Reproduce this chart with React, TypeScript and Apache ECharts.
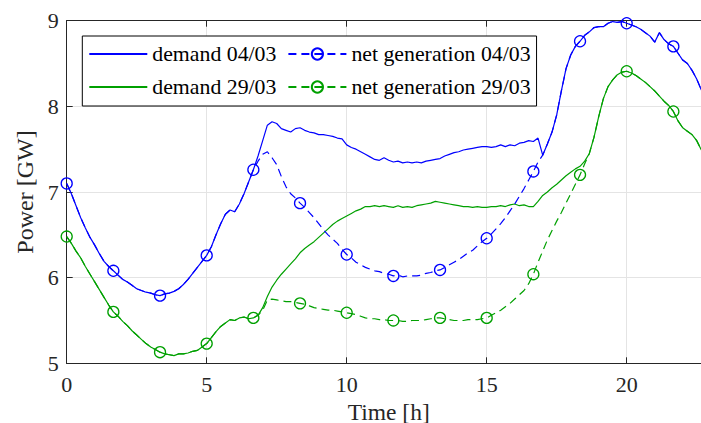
import React, { useEffect, useRef } from "react";
import * as echarts from "echarts";

// time grid: one sample every 10 minutes (1/6 h)
const STEP_H = 1 / 6;
const MARKER_EVERY = 10; // a marker every 100 minutes

const seriesNames = ["demand 04/03", "net generation 04/03", "demand 29/03", "net generation 29/03"];

const demand0403 = [
  7.10, 6.98, 6.84, 6.70, 6.58, 6.47, 6.38, 6.28, 6.19, 6.13,
  6.08, 6.03, 5.98, 5.95, 5.91, 5.87, 5.85, 5.83, 5.82, 5.80,
  5.79, 5.81, 5.82, 5.84, 5.87, 5.92, 5.98, 6.05, 6.12, 6.19,
  6.26, 6.36, 6.50, 6.63, 6.74, 6.79, 6.77, 6.86, 6.98, 7.12,
  7.26, 7.42, 7.60, 7.78, 7.82, 7.80, 7.74, 7.72, 7.70, 7.74,
  7.75, 7.72, 7.70, 7.69, 7.67, 7.67, 7.66, 7.65, 7.63, 7.62,
  7.55, 7.52, 7.50, 7.47, 7.44, 7.41, 7.38, 7.37, 7.40, 7.37,
  7.35, 7.36, 7.34, 7.35, 7.34, 7.35, 7.34, 7.36, 7.37, 7.38,
  7.39, 7.42, 7.44, 7.46, 7.47, 7.49, 7.50, 7.51, 7.52, 7.53,
  7.53, 7.52, 7.53, 7.55, 7.53, 7.55, 7.54, 7.57, 7.58, 7.60,
  7.59, 7.63, 7.43, 7.56, 7.70, 7.90, 8.18, 8.44, 8.60, 8.70,
  8.76, 8.83, 8.87, 8.92, 8.93, 8.93, 8.97, 8.99, 8.98, 8.99,
  8.97, 8.95, 8.93, 8.90, 8.86, 8.82, 8.75, 8.86, 8.78, 8.73,
  8.70, 8.62, 8.54, 8.50, 8.42, 8.32, 8.19,
];

const demand2903 = [
  6.48, 6.40, 6.31, 6.23, 6.13, 6.04, 5.95, 5.86, 5.77, 5.68,
  5.60, 5.55, 5.49, 5.44, 5.38, 5.33, 5.28, 5.23, 5.19, 5.16,
  5.13, 5.11, 5.10, 5.09, 5.11, 5.11, 5.12, 5.14, 5.15, 5.19,
  5.23, 5.30, 5.37, 5.43, 5.47, 5.51, 5.50, 5.53, 5.54, 5.52,
  5.53, 5.56, 5.65, 5.78, 5.89, 5.97, 6.04, 6.10, 6.16, 6.22,
  6.29, 6.34, 6.38, 6.42, 6.47, 6.52, 6.57, 6.62, 6.66, 6.69,
  6.72, 6.75, 6.78, 6.80, 6.83, 6.83, 6.84, 6.83, 6.84, 6.83,
  6.82, 6.84, 6.82, 6.83, 6.82, 6.84, 6.85, 6.86, 6.87, 6.89,
  6.88, 6.87, 6.86, 6.85, 6.84, 6.83, 6.83, 6.82, 6.83, 6.82,
  6.82, 6.83, 6.83, 6.84, 6.83, 6.85, 6.86, 6.84, 6.85, 6.83,
  6.83, 6.89, 6.96, 7.00, 7.05, 7.09, 7.14, 7.19, 7.23, 7.27,
  7.30, 7.36, 7.45, 7.64, 7.88, 8.09, 8.23, 8.31, 8.37, 8.40,
  8.41, 8.39, 8.36, 8.32, 8.28, 8.23, 8.18, 8.12, 8.06, 8.01,
  7.94, 7.83, 7.75, 7.71, 7.67, 7.60, 7.49,
];

// net generation equals demand outside these sample ranges
const netGen0403Start = 41;
const netGen0403Diverging = [
  7.36, 7.44, 7.47, 7.40, 7.32, 7.18, 7.06, 6.98, 6.93,
  6.87, 6.82, 6.76, 6.70, 6.63, 6.56, 6.50, 6.45, 6.40, 6.33,
  6.27, 6.23, 6.18, 6.15, 6.12, 6.10, 6.08, 6.07, 6.05, 6.04,
  6.02, 6.03, 6.01, 6.02, 6.02, 6.02, 6.03, 6.05, 6.06, 6.08,
  6.09, 6.12, 6.15, 6.18, 6.21, 6.25, 6.29, 6.32, 6.37, 6.42,
  6.46, 6.51, 6.57, 6.63, 6.70, 6.78, 6.86, 6.95, 7.04, 7.14,
  7.24, 7.35,
];

const netGen2903Start = 42;
const netGen2903Diverging = [
  5.62, 5.74, 5.75, 5.74, 5.73, 5.72, 5.72, 5.71,
  5.70, 5.69, 5.67, 5.65, 5.64, 5.63, 5.62, 5.62, 5.61, 5.60,
  5.59, 5.58, 5.57, 5.55, 5.53, 5.52, 5.52, 5.51, 5.51, 5.50,
  5.50, 5.50, 5.49, 5.49, 5.50, 5.50, 5.50, 5.51, 5.52, 5.53,
  5.53, 5.52, 5.51, 5.50, 5.50, 5.50, 5.51, 5.51, 5.51, 5.52,
  5.53, 5.56, 5.59, 5.62, 5.66, 5.70, 5.75, 5.80, 5.85, 5.93,
  6.04, 6.18, 6.31, 6.44, 6.55, 6.66, 6.76, 6.87, 6.98, 7.09,
  7.20, 7.33,
];

const BLUE = "#0000ff";
const GREEN = "#00a000";
const AXIS = "#262626";
const GRIDC = "#e4e4e4";
const FONT = "Liberation Serif";

const times = demand0403.map((_, i) => i * STEP_H);

function demandData(d: number[]) {
  return d.map((v, i) => [times[i], v]);
}

function netData(d: number[], start: number, div: number[]) {
  return d.map((v, i) => {
    const inDiv = i >= start && i < start + div.length;
    const val = inDiv ? div[i - start] : v;
    return { value: [times[i], val], symbol: i % MARKER_EVERY === 0 ? "circle" : "none" };
  });
}

export default function App() {
  const ref = useRef<HTMLDivElement>(null);
  useEffect(() => {
    if (!ref.current) return;
    const chart = echarts.init(ref.current, null, { renderer: "svg" });
    const demandSeries = (name: string, color: string, d: number[]) => ({
      name,
      type: "line",
      data: demandData(d),
      showSymbol: false,
      symbol: "none",
      symbolSize: 0,
      lineStyle: { color, width: 1.2 },
      itemStyle: { color, opacity: 0 },
      z: 2,
    });
    const netSeries = (name: string, color: string, data: any[]) => ({
      name,
      type: "line",
      data,
      showSymbol: true,
      showAllSymbol: true,
      symbol: "circle",
      symbolSize: 11,
      lineStyle: { color, width: 1.2, type: [8, 5] },
      itemStyle: { color: "rgba(0,0,0,0)", borderColor: color, borderWidth: 1.3 },
      z: 3,
    });
    chart.setOption({
      animation: false,
      textStyle: { fontFamily: FONT },
      grid: {
        left: 66.7,
        top: 20.7,
        width: 644,
        height: 342.6,
        containLabel: false,
        outerBoundsMode: "none",
      },
      legend: {
        orient: "vertical",
        left: 82.3,
        top: 36,
        height: 60,
        data: [
          { name: seriesNames[0], itemStyle: { opacity: 0 } },
          { name: seriesNames[2], itemStyle: { opacity: 0 } },
          seriesNames[1],
          seriesNames[3],
        ],
        itemWidth: 58,
        itemHeight: 14,
        itemGap: 11,
        padding: [7, 6, 8, 6],
        borderColor: "#000",
        borderWidth: 1,
        backgroundColor: "#fff",
        borderRadius: 0,
        textStyle: { fontFamily: FONT, fontSize: 21.8, lineHeight: 14, color: "#000" },
      },
      xAxis: [
        {
          type: "value",
          min: 0,
          max: 23,
          interval: 5,
          position: "bottom",
          name: "Time [h]",
          nameLocation: "middle",
          nameGap: 31,
          nameTextStyle: { fontFamily: FONT, fontSize: 23.5, color: AXIS },
          axisLine: { show: true, lineStyle: { color: AXIS, width: 1 } },
          axisTick: { show: true, inside: true, length: 6, lineStyle: { color: AXIS } },
          axisLabel: { fontFamily: FONT, fontSize: 22, color: AXIS, margin: 10, showMaxLabel: false },
          splitLine: { show: true, lineStyle: { color: GRIDC, width: 1 } },
        },
        {
          type: "value",
          min: 0,
          max: 23,
          interval: 5,
          position: "top",
          axisLine: { show: true, lineStyle: { color: AXIS, width: 1 } },
          axisTick: { show: true, inside: true, length: 6, lineStyle: { color: AXIS } },
          axisLabel: { show: false },
          splitLine: { show: false },
        },
      ],
      yAxis: {
        type: "value",
        min: 5,
        max: 9,
        interval: 1,
        name: "Power [GW]",
        nameLocation: "middle",
        nameGap: 29,
        nameRotate: 90,
        nameTextStyle: { fontFamily: FONT, fontSize: 24, color: AXIS },
        axisLine: { show: true, lineStyle: { color: AXIS, width: 1 } },
        axisTick: { show: true, inside: true, length: 6, lineStyle: { color: AXIS } },
        axisLabel: { fontFamily: FONT, fontSize: 22, color: AXIS, margin: 8 },
        splitLine: { show: true, lineStyle: { color: GRIDC, width: 1 } },
      },
      series: [
        demandSeries(seriesNames[0], BLUE, demand0403),
        netSeries(seriesNames[1], BLUE, netData(demand0403, netGen0403Start, netGen0403Diverging)),
        demandSeries(seriesNames[2], GREEN, demand2903),
        netSeries(seriesNames[3], GREEN, netData(demand2903, netGen2903Start, netGen2903Diverging)),
      ],
    });
    return () => chart.dispose();
  }, []);
  return (
    <div
      style={{
        position: "fixed",
        left: 0,
        top: 0,
        width: 701,
        height: 423,
        overflow: "hidden",
        background: "#fff",
      }}
    >
      <div ref={ref} style={{ width: 712, height: 423 }} />
    </div>
  );
}
